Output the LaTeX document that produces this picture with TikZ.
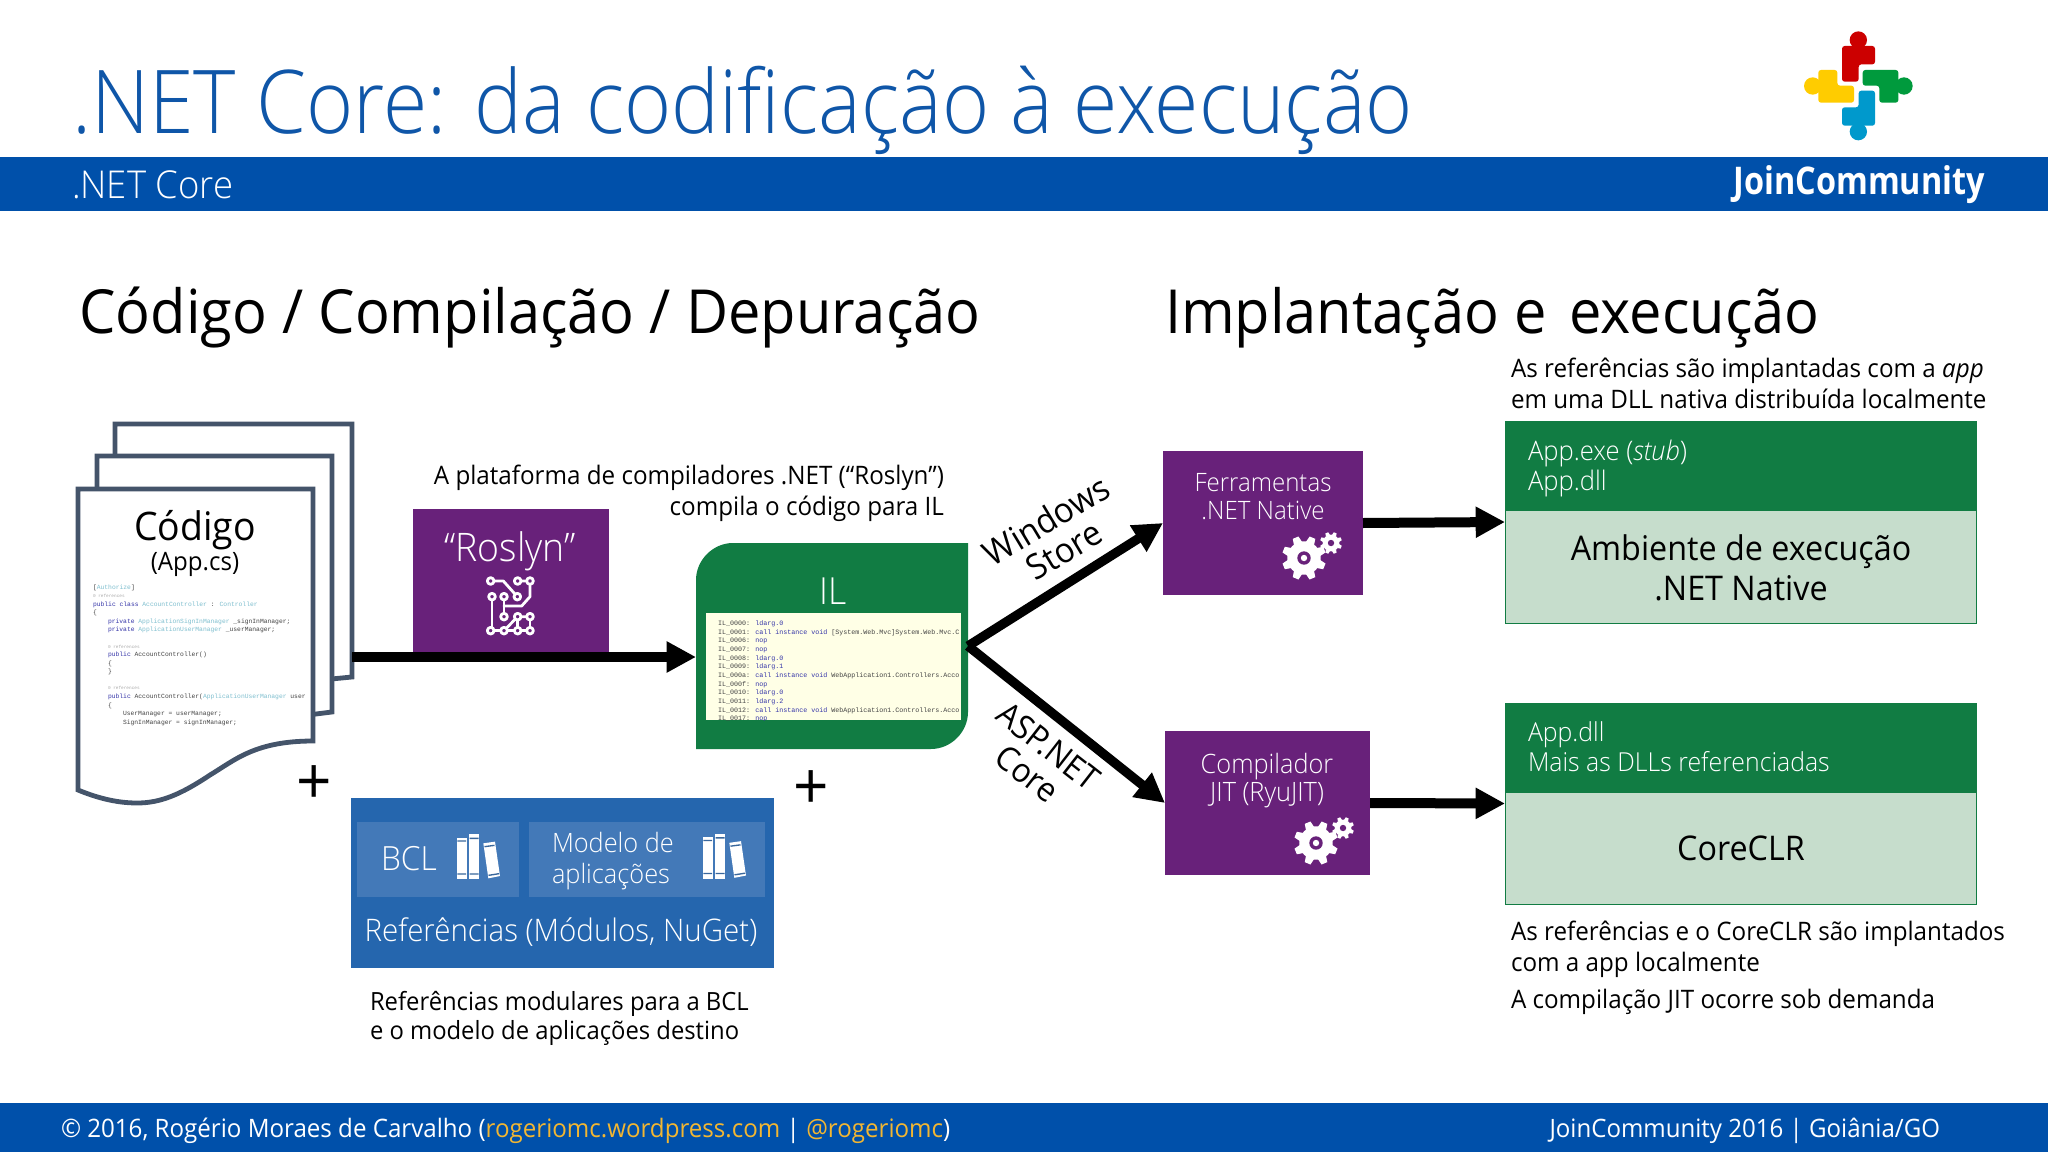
\documentclass[tikz,border=0pt]{standalone}
\usepackage{fontspec}
\usetikzlibrary{arrows.meta}
\setmainfont{Open Sans}[FakeStretch=0.95]
\newfontfamily\lightf{Open Sans Light}[FakeStretch=0.95]
\newfontfamily\titlef{Open Sans Light}[FakeStretch=0.915]
\newfontfamily\brandf{Open Sans}[FakeStretch=0.85]
\newfontfamily\mc{Liberation Mono}
\newcommand\fs[1]{\fontsize{#1}{#1}\selectfont}
\newcommand\fl[2]{\fontsize{#1}{#2}\selectfont}
\definecolor{barblue}{HTML}{0050AA}
\definecolor{titleblue}{HTML}{0F56A8}
\definecolor{docslate}{HTML}{44546A}
\definecolor{msgreen}{HTML}{117C43}
\definecolor{lightgreen}{HTML}{C6DDCC}
\definecolor{mspurple}{HTML}{68217A}
\definecolor{refblue}{HTML}{2566AE}
\definecolor{tileblue}{HTML}{4379B8}
\definecolor{linkyellow}{HTML}{F2B632}
\definecolor{codekw}{HTML}{3434A8}
\definecolor{codety}{HTML}{7FBFCF}
\definecolor{codetx}{HTML}{444444}
\definecolor{codecm}{HTML}{AAAAAA}
\definecolor{ilpaper}{HTML}{FFFFE6}
\definecolor{logored}{HTML}{CC0000}
\definecolor{logogreen}{HTML}{009A3D}
\definecolor{logoyellow}{HTML}{FFCC00}
\definecolor{logoblue}{HTML}{0099CC}
\newcommand\kw[1]{\textcolor{codekw}{#1}}
\newcommand\ty[1]{\textcolor{codety}{#1}}
\tikzset{
  x=0.75pt,y=-0.75pt,
  tx/.style={inner sep=0pt,outer sep=0pt,align=left},
  body/.style={tx,font=\fl{19.1}{23.2}},
  boxnode/.style={draw=none,inner sep=0pt,outer sep=0pt},
  flow/.style={line width=7.5pt,draw=black,-{Triangle[length=22pt,width=22pt]}},
  diag/.style={line width=7pt,draw=black,-{Triangle[length=22pt,width=22pt]}},
  codeln/.style={inner sep=0pt,outer sep=0pt,anchor=base west,text=codetx,font=\mc\fontsize{4.75}{5}\selectfont},
  illn/.style={inner sep=0pt,outer sep=0pt,anchor=base west,text=codetx,font=\mc\fontsize{5}{5}\selectfont},
}
\newcommand\gearicon[5]{% x,y,radius,hole,centre dot
  \begin{scope}[shift={(#1,#2)}]
    \fill[white] (0,0) circle[radius=0.76*#3];
    \foreach \a in {0,45,...,315}{
      \fill[white,rotate=\a+22.5] (-0.2*#3,-0.7*#3) -- (-0.14*#3,-#3) -- (0.14*#3,-#3) -- (0.2*#3,-0.7*#3) -- cycle;
    }
    \fill[mspurple] (0,0) circle[radius=#4];
    \fill[white] (0,0) circle[radius=#5];
  \end{scope}}
\newcommand\bookicon[2]{%
  \begin{scope}[shift={(#1,#2)},scale=1/3]
    \fill[white] (350,143) rectangle (380,267);
    \fill[white] (387,133) rectangle (418,267);
    \fill[white] (430,160) -- (465,155) -- (480,258) -- (445,265) -- cycle;
    \fill[tileblue!85!black] (352,151) rectangle (378,155) (352,250) rectangle (378,254);
    \fill[tileblue!85!black] (389,143) rectangle (416,147) (389,250) rectangle (416,254);
    \fill[tileblue!85!black] (433,168) -- (463,164) -- (464,168) -- (434,172) -- cycle;
    \fill[tileblue!85!black] (445,254) -- (477,249) -- (478,253) -- (446,258) -- cycle;
  \end{scope}}
\begin{document}
\begin{tikzpicture}
\useasboundingbox (0,0) rectangle (2048,1152);
\fill[white] (0,0) rectangle (2048,1152);
% bars
\fill[barblue] (0,157) rectangle (2048,211);
\fill[barblue] (0,1103) rectangle (2048,1152);
\node[tx,anchor=base west,text=titleblue,font=\titlef\fs{66}] (title) at (72,134) {.NET Core: da codificação à execução};
\node[tx,anchor=west,text=white,font=\lightf\fs{28.8}] (sub) at (72,185) {.NET Core};
\node[tx,anchor=east,text=white,font=\brandf\bfseries\fs{28.6}] (brand) at (1985,185) {JoinCommunity};
% logo
\begin{scope}[shift={(1780,20)},scale=1/3]
  \fill[logored,rounded corners=2pt] (186,78) -- (285,78) -- (285,133) -- (236,133) -- (236,185) -- (186,185) -- cycle;
  \fill[logored] (235,60) circle[radius=26];
  \fill[logored] (220,70) rectangle (250,85);
  \fill[logogreen,rounded corners=2pt] (248,150) -- (355,150) -- (355,248) -- (298,248) -- (298,197) -- (248,197) -- cycle;
  \fill[logogreen] (372,198) circle[radius=26];
  \fill[logogreen] (350,183) rectangle (365,213);
  \fill[logoyellow,rounded corners=2pt] (115,150) -- (172,150) -- (172,197) -- (222,197) -- (222,248) -- (115,248) -- cycle;
  \fill[logoyellow] (98,198) circle[radius=26];
  \fill[logoyellow] (105,183) rectangle (120,213);
  \fill[logoblue,rounded corners=2pt] (236,212) -- (285,212) -- (285,317) -- (186,317) -- (186,262) -- (236,262) -- cycle;
  \fill[logoblue] (235,335) circle[radius=26];
  \fill[logoblue] (220,312) rectangle (250,327);
\end{scope}
% section headings
\node[tx,anchor=base west,font=\fs{45.6}] (h1) at (79.5,333) {Código / Compilação / Depuração};
\node[tx,anchor=base west,font=\fs{45.6}] (h2) at (1165,333) {Implantação e\hspace{17pt}execução};
% document stack
\begin{scope}[draw=docslate,line width=3.6pt,fill=white,miter limit=10]
  \filldraw (115,424) -- (352,424) -- (352,677) -- (300,682) -- (115,682) -- cycle;
  \filldraw (97,456) -- (332,456) -- (332,712) -- (300,716) -- (97,716) -- cycle;
  \filldraw (78,489) -- (313,489) -- (313,741) .. controls (255,741) and (235,760) .. (210,775) .. controls (180,795) and (160,803) .. (137,803) .. controls (115,803) and (95,797) .. (78,790) -- cycle;
\end{scope}
\coordinate (docout) at (352,657);
\node[tx,font=\fs{29.5}] (codigo) at (195,530) {Código};
\node[tx,font=\fs{19}] (appcs) at (195,564) {(App.cs)};
\begin{scope}
  \clip (85,575) rectangle (305,730);
  \node[codeln] (c1) at (93,589) {[\ty{Authorize}]};
  \node[codeln,font=\mc\fontsize{3.3}{4}\selectfont,text=codecm] (c2) at (93,597) {0 references};
  \node[codeln] (c3) at (93,606) {\kw{public class} \ty{AccountController} : \ty{Controller}};
  \node[codeln] (c4) at (93,614) {\{};
  \node[codeln] (c5) at (108,623) {\kw{private} \ty{ApplicationSignInManager} \_signInManager;};
  \node[codeln] (c6) at (108,631) {\kw{private} \ty{ApplicationUserManager} \_userManager;};
  \node[codeln,font=\mc\fontsize{3.3}{4}\selectfont,text=codecm] (c7) at (108,648) {0 references};
  \node[codeln] (c8) at (108,656) {\kw{public} AccountController()};
  \node[codeln] (c9) at (108,665) {\{};
  \node[codeln] (c10) at (108,673) {\}};
  \node[codeln,font=\mc\fontsize{3.3}{4}\selectfont,text=codecm] (c11) at (108,689) {0 references};
  \node[codeln] (c12) at (108,698) {\kw{public} AccountController(\ty{ApplicationUserManager} user};
  \node[codeln] (c13) at (108,707) {\{};
  \node[codeln] (c14) at (123,715) {UserManager = userManager;};
  \node[codeln] (c15) at (123,724) {SignInManager = signInManager;};
\end{scope}
% plus signs
\node[tx,font=\fs{49}] (plus1) at (314,785) {+};
\node[tx,font=\fs{49}] (plus2) at (811,790) {+};
% roslyn
\node[boxnode,fill=mspurple,minimum width=147pt,minimum height=108pt] (roslyn) at (511,581) {};
\node[tx,text=white,font=\lightf\fs{29.5}] (roslynt) at (510,551) {“Roslyn”};
\begin{scope}[shift={(340,500)},scale=1/3,draw=white,line width=2.1pt,line cap=round,line join=round]
  \draw (452,243) -- (490,243) -- (532,290);
  \draw (533,243) -- (570,243) -- (570,290) -- (545,318) -- (492,318);
  \draw (456,290) -- (456,392) -- (570,392) -- (570,350);
  \draw (492,290) -- (492,350);
  \draw (492,392) -- (533,350) -- (570,350);
  \draw (533,350) -- (533,392);
  \foreach \p in {(452,243),(533,243),(570,243),(456,290),(492,290),(532,290),(492,350),(533,350),(570,350),(452,392),(492,392),(533,392),(570,392)}
    \filldraw[fill=mspurple] \p circle[radius=10];
\end{scope}
\node[body,anchor=east,align=right] (roslynnote) at (944,493.5) {A plataforma de compiladores .NET (“Roslyn”)\\compila o código para IL};
% IL
\node[boxnode,minimum width=204pt,minimum height=154.5pt] (il) at (832,646) {};
\fill[msgreen] (696,749) -- (696,580) .. controls (696,560) and (713,543) .. (733,543) -- (968,543) -- (968,712) .. controls (968,732) and (951,749) .. (931,749) -- cycle;
\node[tx,text=white,font=\lightf\fs{28}] (ilt) at (833,591) {IL};
\fill[ilpaper] (706,613) rectangle (961,720);
\begin{scope}
  \clip (706,613) rectangle (961,720);
  \node[illn] (il0) at (718,625) {IL\_0000: \kw{ldarg.0}};
  \node[illn] (il1) at (718,634) {IL\_0001: \kw{call instance void} [System.Web.Mvc]System.Web.Mvc.C};
  \node[illn] (il2) at (718,642.5) {IL\_0006: \kw{nop}};
  \node[illn] (il3) at (718,651) {IL\_0007: \kw{nop}};
  \node[illn] (il4) at (718,660) {IL\_0008: \kw{ldarg.0}};
  \node[illn] (il5) at (718,668.5) {IL\_0009: \kw{ldarg.1}};
  \node[illn] (il6) at (718,677) {IL\_000a: \kw{call instance void} WebApplication1.Controllers.Acco};
  \node[illn] (il7) at (718,686) {IL\_000f: \kw{nop}};
  \node[illn] (il8) at (718,694.5) {IL\_0010: \kw{ldarg.0}};
  \node[illn] (il9) at (718,703) {IL\_0011: \kw{ldarg.2}};
  \node[illn] (il10) at (718,712) {IL\_0012: \kw{call instance void} WebApplication1.Controllers.Acco};
  \node[illn] (il11) at (718,720.5) {IL\_0017: \kw{nop}};
\end{scope}
% references box
\node[boxnode,fill=refblue,minimum width=317.25pt,minimum height=127.5pt] (refs) at (562.5,883) {};
\fill[tileblue] (357,822) rectangle (519,897);
\fill[tileblue] (529,822) rectangle (765,897);
\node[tx,text=white,font=\lightf\fs{25}] (bcl) at (409,859) {BCL};
\bookicon{340}{790}
\node[tx,text=white,anchor=west,font=\lightf\fl{20}{23.5}] (modelo) at (552,861) {Modelo de\\aplicações};
\bookicon{586}{789.5}
\node[tx,text=white,font=\lightf\fs{23.3}] (reft) at (561,932) {Referências (Módulos, NuGet)};
\node[tx,anchor=west,font=\fl{18.8}{21.8}] (refnote) at (370,1018) {Referências modulares para a BCL\\e o modelo de aplicações destino};
% tools
\node[boxnode,fill=mspurple,minimum width=150pt,minimum height=108pt] (fer) at (1263,523) {};
\node[tx,text=white,align=center,font=\lightf\fl{19}{21}] (fert) at (1263,497) {Ferramentas\\.NET Native};
\gearicon{1304}{558}{22}{6.7}{3.2}
\gearicon{1331}{543}{11}{3.2}{0}
\node[boxnode,fill=mspurple,minimum width=153.75pt,minimum height=108pt] (jit) at (1267.5,803) {};
\node[tx,text=white,align=center,font=\lightf\fl{20}{21.5}] (jitt) at (1267,780.5) {Compilador\\JIT (RyuJIT)};
\gearicon{1316}{843}{22}{6.7}{3.2}
\gearicon{1343}{828}{11}{3.2}{0}
% right boxes
\node[boxnode,draw=msgreen,fill=lightgreen,line width=.75pt,minimum width=353.25pt,minimum height=151.5pt] (rt) at (1740.5,522) {};
\fill[msgreen] (1505,421) rectangle (1976,511);
\node[tx,anchor=west,text=white,font=\lightf\fl{20.2}{22.5}] (rtt) at (1528,468) {App.exe (\textit{stub})\\App.dll};
\node[tx,align=center,font=\fl{25.5}{30.4}] (rtb) at (1741,568) {Ambiente de execução\\.NET Native};
\node[boxnode,draw=msgreen,fill=lightgreen,line width=.75pt,minimum width=353.25pt,minimum height=150.75pt] (rb) at (1740.5,803.5) {};
\fill[msgreen] (1505,703) rectangle (1976,793);
\node[tx,anchor=west,text=white,font=\lightf\fl{19.6}{22.5}] (rbt) at (1528,747) {App.dll\\Mais as DLLs referenciadas};
\node[tx,font=\fs{25.5}] (rbb) at (1741,848) {CoreCLR};
% notes
\node[body,anchor=west] (n1) at (1511,383) {As referências são implantadas com a \textit{app}\\em uma DLL nativa distribuída localmente};
\node[body,anchor=west] (n2) at (1511,949) {As referências e o CoreCLR são implantados\\com a app localmente};
\node[body,anchor=west] (n3) at (1511,1002) {A compilação JIT ocorre sob demanda};
% connectors
\draw[flow] (docout) -- (il.west |- docout);
\draw[diag] (il.east) -- (fer.west);
\draw[diag] (il.east) -- (jit.west);
\draw[flow] (fer.east) -- (rt.west);
\draw[flow] (jit.east) -- (rb.west);
\node[tx,align=center,rotate=31,font=\fl{26}{26}] (ws) at (1055,535) {Windows\\Store};
\node[tx,align=center,rotate=-38,font=\fl{25}{26}] (asp) at (1038,760) {ASP.NET\\Core};
% footer
\node[tx,anchor=west,text=white,font=\fs{19.05}] (f1) at (61,1131) {© 2016, Rogério Moraes de Carvalho (\textcolor{linkyellow}{rogeriomc.wordpress.com} | \textcolor{linkyellow}{@rogeriomc})};
\node[tx,anchor=east,text=white,font=\fs{19}] (f2) at (1940,1130.5) {JoinCommunity 2016 | Goiânia/GO};
\end{tikzpicture}
\end{document}
